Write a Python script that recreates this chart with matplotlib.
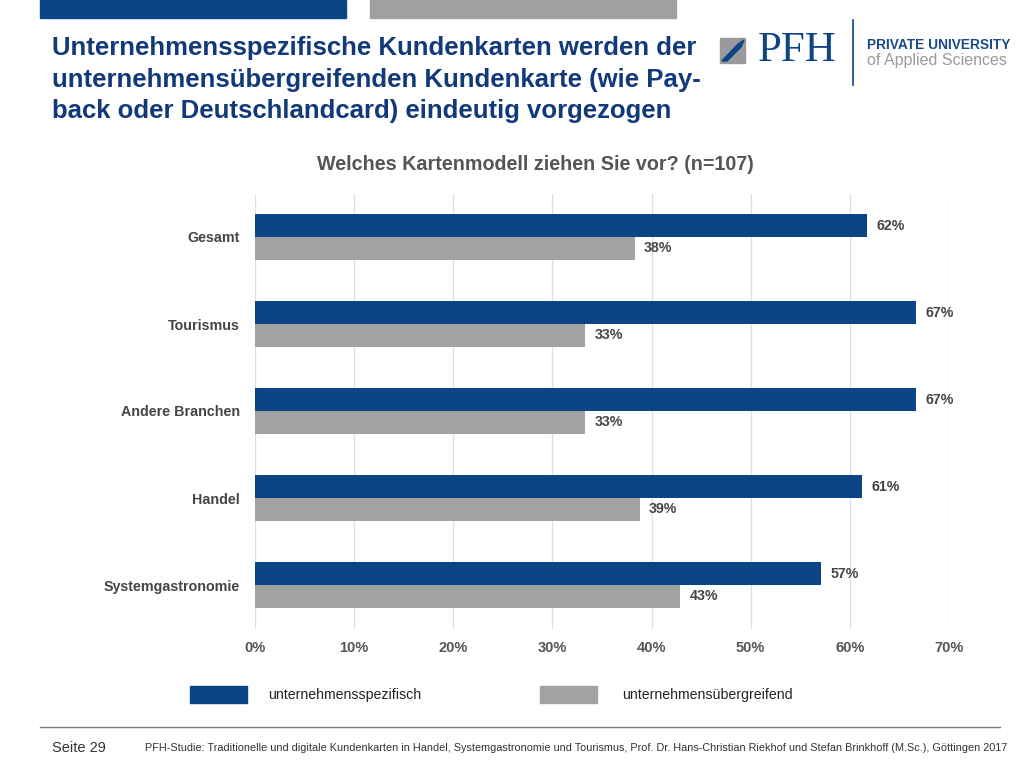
import matplotlib.pyplot as plt
from matplotlib.patches import Rectangle, Polygon
from matplotlib.lines import Line2D

# data
categories = ["Gesamt", "Tourismus", "Andere Branchen", "Handel", "Systemgastronomie"]
specific = [61.7, 66.7, 66.7, 61.2, 57.1]
cross = [38.3, 33.3, 33.3, 38.8, 42.9]
series_names = ["unternehmensspezifisch", "unternehmensübergreifend"]
xticks = [0, 10, 20, 30, 40, 50, 60, 70]

BLUE = "#0b4487"
GREY = "#a2a2a2"
TXT = "#454545"
TITLE_BLUE = "#12397a"

plt.rcParams["font.family"] = ["Liberation Sans", "DejaVu Sans"]

W, H = 1030, 770
fig = plt.figure(figsize=(W / 100, H / 100), dpi=100)


def fx(px):
    return px / W


def fy(py):
    return 1 - py / H


# header stripes
fig.patches.append(Rectangle((fx(40), fy(18)), fx(306), 18 / H, color=BLUE, transform=fig.transFigure))
fig.patches.append(Rectangle((fx(370), fy(18)), fx(306), 18 / H, color="#a0a0a0", transform=fig.transFigure))

# slide title, one text per line to get the slide's line spacing
title_lines = ["Unternehmensspezifische Kundenkarten werden der",
               "unternehmensübergreifenden Kundenkarte (wie Pay-",
               "back oder Deutschlandcard) eindeutig vorgezogen"]
for i, line in enumerate(title_lines):
    fig.text(fx(52), fy(48 + 31.5 * i), line, ha="left", va="center", fontsize=18.5,
             fontweight="bold", color=TITLE_BLUE)

# logo
fig.patches.append(Rectangle((fx(720), fy(63)), fx(25), 25 / H, color="#9a9a9a", transform=fig.transFigure))
fig.patches.append(Polygon([(fx(722), fy(61)), (fx(738), fy(44)), (fx(744), fy(40)),
                            (fx(741), fy(47)), (fx(727), fy(61))],
                           closed=True, color=BLUE, transform=fig.transFigure))
fig.text(fx(758), fy(51), "PFH", ha="left", va="center", fontsize=31, color=BLUE,
         family=["Liberation Serif", "DejaVu Serif"])
fig.lines.append(Line2D([fx(853), fx(853)], [fy(20), fy(85)], color=BLUE, lw=1.2,
                        transform=fig.transFigure))
fig.text(fx(867), fy(45), "PRIVATE UNIVERSITY", ha="left", va="center", fontsize=9.9,
         fontweight="bold", color="#1a4a8a")
fig.text(fx(867), fy(61), "of Applied Sciences", ha="left", va="center", fontsize=11.5,
         color="#9a9a9a")

# chart title
fig.text(fx(535), fy(164), "Welches Kartenmodell ziehen Sie vor? (n=107)", ha="center",
         va="center", fontsize=14.2, fontweight="bold", color="#555555")

# bar chart
ax = fig.add_axes([fx(255), fy(628.5), fx(949 - 255), (628.5 - 193.5) / H])
ypos = list(range(len(categories)))
bh = 0.26
ax.barh([y - bh / 2 for y in ypos], specific, height=bh, color=BLUE, zorder=3)
ax.barh([y + bh / 2 for y in ypos], cross, height=bh, color=GREY, zorder=3)
for y, v in zip(ypos, specific):
    ax.text(v + 0.95, y - bh / 2, f"{round(v)}%", va="center", ha="left", fontsize=10.2,
            fontweight="bold", color=TXT)
for y, v in zip(ypos, cross):
    ax.text(v + 0.95, y + bh / 2, f"{round(v)}%", va="center", ha="left", fontsize=10.2,
            fontweight="bold", color=TXT)

ax.set_xlim(0, 70)
ax.set_ylim(len(categories) - 0.5, -0.5)
ax.set_xticks(xticks)
ax.set_xticklabels([f"{t}%" for t in xticks], fontsize=10.5, fontweight="bold", color="#555555")
ax.set_yticks(ypos)
ax.set_yticklabels(categories, fontsize=10.3, fontweight="bold", color=TXT)
ax.tick_params(length=0)
ax.tick_params(axis="x", pad=9)
ax.tick_params(axis="y", pad=11)
ax.grid(axis="x", color="#dedede", lw=0.9, zorder=0)
for s in ax.spines.values():
    s.set_visible(False)

# legend
fig.patches.append(Rectangle((fx(190), fy(703)), fx(57), 17 / H, color=BLUE, transform=fig.transFigure))
fig.text(fx(268), fy(694.5), series_names[0], ha="left", va="center", fontsize=10.2, color="#222222")
fig.patches.append(Rectangle((fx(540), fy(703)), fx(57), 17 / H, color=GREY, transform=fig.transFigure))
fig.text(fx(622), fy(694.5), series_names[1], ha="left", va="center", fontsize=10.2, color="#222222")

# footer
fig.lines.append(Line2D([fx(40), fx(1000)], [fy(727), fy(727)], color="#7a7a7a", lw=1.0,
                        transform=fig.transFigure))
fig.text(fx(52), fy(748), "Seite 29", ha="left", va="center", fontsize=10.5, color="#333333")
fig.text(fx(145), fy(748),
         "PFH-Studie: Traditionelle und digitale Kundenkarten in Handel, Systemgastronomie und Tourismus, "
         "Prof. Dr. Hans-Christian Riekhof und Stefan Brinkhoff (M.Sc.), Göttingen 2017",
         ha="left", va="center", fontsize=7.85, color="#333333")

fig.savefig("out.png", dpi=100)
